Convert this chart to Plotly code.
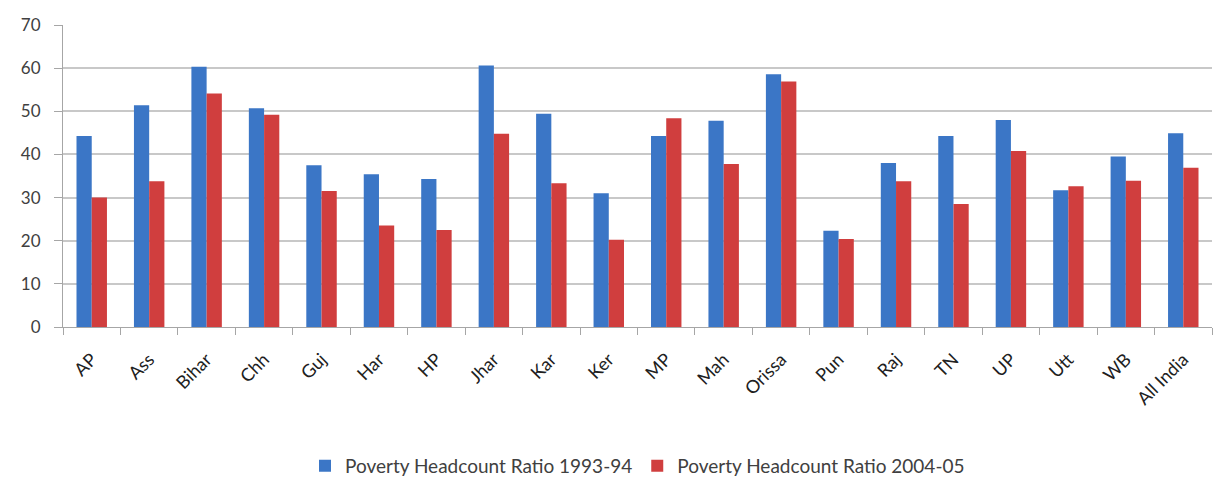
import plotly.graph_objects as go

states = ["AP", "Ass", "Bihar", "Chh", "Guj", "Har", "HP", "Jhar", "Kar", "Ker",
          "MP", "Mah", "Orissa", "Pun", "Raj", "TN", "UP", "Utt", "WB", "All India"]
pov_1993 = [44.3, 51.4, 60.3, 50.7, 37.5, 35.4, 34.3, 60.6, 49.4, 31.0,
            44.3, 47.8, 58.6, 22.3, 38.0, 44.3, 48.0, 31.7, 39.5, 44.9]
pov_2004 = [30.0, 33.8, 54.1, 49.2, 31.5, 23.5, 22.5, 44.8, 33.3, 20.2,
            48.4, 37.8, 56.9, 20.4, 33.8, 28.5, 40.8, 32.6, 33.9, 36.9]
y_ticks = [0, 10, 20, 30, 40, 50, 60, 70]

fig = go.Figure()
fig.add_trace(go.Bar(x=states, y=pov_1993, name="Poverty Headcount Ratio 1993-94",
                     marker=dict(color="#3b76c6", line=dict(width=0))))
fig.add_trace(go.Bar(x=states, y=pov_2004, name="Poverty Headcount Ratio 2004-05",
                     marker=dict(color="#d03e3e", line=dict(width=0))))

fig.update_layout(
    width=1214, height=484,
    margin=dict(l=63, r=2, t=25, b=157, autoexpand=False),
    paper_bgcolor="white", plot_bgcolor="white",
    barmode="group", bargap=0.47, bargroupgap=0,
    font=dict(family="Lato, 'Open Sans', sans-serif", color="#404040"),
    showlegend=True,
    legend=dict(orientation="h", x=0.5, xanchor="center", y=-0.397, yanchor="top",
                font=dict(size=19, color="#404040"), itemwidth=30,
                traceorder="normal"),
)
fig.update_xaxes(
    type="category", tickangle=-45, tickfont=dict(size=18, color="#202020"),
    automargin=False, ticklabelstandoff=14,
    showline=True, linecolor="#a6a6a6", linewidth=1,
    ticks="outside", ticklen=7, tickcolor="#a6a6a6", tickson="boundaries",
    showgrid=False,
)
fig.update_yaxes(
    range=[0, 70], tickvals=y_ticks, tickfont=dict(size=17, color="#404040"),
    automargin=False, ticklabelstandoff=10,
    showgrid=True, gridcolor="#c8c8c8", gridwidth=1.5,
    showline=True, linecolor="#a6a6a6", linewidth=1,
    ticks="outside", ticklen=8, tickcolor="#a6a6a6",
    zeroline=False,
)

fig.write_html("out.html")
